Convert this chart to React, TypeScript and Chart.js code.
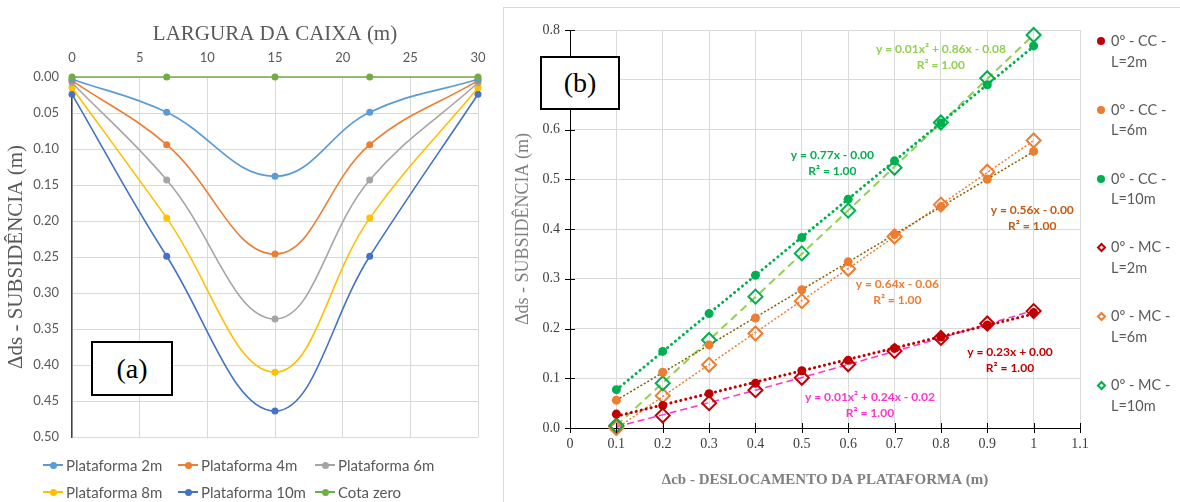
import React, { useEffect, useRef } from "react";
import { Chart, registerables } from "chart.js";
Chart.register(...registerables);

// ---------- Chart (a): settlement profile across the box width ----------
const boxWidthPositions = [0, 7, 15, 22, 30];
const plataforma2m = [0.003, 0.049, 0.138, 0.049, 0.003];
const plataforma4m = [0.005, 0.094, 0.246, 0.094, 0.005];
const plataforma6m = [0.008, 0.143, 0.336, 0.143, 0.008];
const plataforma8m = [0.015, 0.196, 0.41, 0.196, 0.015];
const plataforma10m = [0.024, 0.249, 0.464, 0.249, 0.024];
const cotaZero = [0, 0, 0, 0, 0];
const seriesANames = ["Plataforma 2m", "Plataforma 4m", "Plataforma 6m", "Plataforma 8m", "Plataforma 10m", "Cota zero"];
const seriesAValues = [plataforma2m, plataforma4m, plataforma6m, plataforma8m, plataforma10m, cotaZero];
const seriesAColors = ["#5B9BD5", "#ED7D31", "#A5A5A5", "#FFC000", "#4472C4", "#70AD47"];

// ---------- Chart (b): settlement vs platform displacement ----------
const displacement = [0.1, 0.2, 0.3, 0.4, 0.5, 0.6, 0.7, 0.8, 0.9, 1.0];
const cc2m = [0.028, 0.045, 0.069, 0.09, 0.115, 0.136, 0.16, 0.183, 0.207, 0.232];
const cc6m = [0.056, 0.112, 0.167, 0.221, 0.278, 0.334, 0.389, 0.445, 0.5, 0.556];
const cc10m = [0.077, 0.154, 0.23, 0.307, 0.383, 0.46, 0.537, 0.613, 0.69, 0.768];
const mc2m = [0.004, 0.025, 0.05, 0.076, 0.101, 0.128, 0.155, 0.181, 0.21, 0.235];
const mc6m = [0.0, 0.065, 0.127, 0.19, 0.255, 0.32, 0.385, 0.449, 0.515, 0.578];
const mc10m = [0.005, 0.09, 0.177, 0.264, 0.351, 0.437, 0.523, 0.614, 0.703, 0.79];
const seriesBNames = [
  ["0º - CC -", "L=2m"],
  ["0º - CC -", "L=6m"],
  ["0º - CC -", "L=10m"],
  ["0º - MC -", "L=2m"],
  ["0º - MC -", "L=6m"],
  ["0º - MC -", "L=10m"],
];
const seriesBValues = [cc2m, cc6m, cc10m, mc2m, mc6m, mc10m];
const seriesBColors = ["#C00000", "#ED7D31", "#00B050", "#C00000", "#ED7D31", "#00B050"];
const seriesBOpen = [false, false, false, true, true, true];
const trendDegree = [1, 1, 1, 2, 1, 2];
const trendColors = ["#C00000", "#806000", "#00B050", "#FF33CC", "#ED7D31", "#92D050"];
const trendEquations = [
  ["y = 0.23x + 0.00", "R² = 1.00"],
  ["y = 0.56x - 0.00", "R² = 1.00"],
  ["y = 0.77x - 0.00", "R² = 1.00"],
  ["y = 0.01x² + 0.24x - 0.02", "R² = 1.00"],
  ["y = 0.64x - 0.06", "R² = 1.00"],
  ["y = 0.01x² + 0.86x - 0.08", "R² = 1.00"],
];
const trendLabelColors = ["#C00000", "#C55A11", "#00B050", "#FF33CC", "#ED7D31", "#92D050"];
const xTicksB = [0, 0.1, 0.2, 0.3, 0.4, 0.5, 0.6, 0.7, 0.8, 0.9, 1.0, 1.1];

// ---------- styling / placement (not data) ----------
const trendStyles = [
  { width: 3, dash: [0.1, 5], cap: "round" },
  { width: 1.5, dash: [2, 2], cap: "butt" },
  { width: 3, dash: [0.1, 5], cap: "round" },
  { width: 1.5, dash: [7, 4], cap: "butt" },
  { width: 1.5, dash: [2, 2], cap: "butt" },
  { width: 2, dash: [8, 5], cap: "butt" },
];
const trendLabelAnchors = [
  [0.949, 0.153],
  [0.997, 0.438],
  [0.566, 0.549],
  [0.647, 0.063],
  [0.706, 0.29],
  [0.8, 0.761],
];

function polyFit(xs: number[], ys: number[], degree: number): number[] {
  const n = degree + 1;
  const A: number[][] = [];
  for (let r = 0; r < n; r++) {
    const row: number[] = [];
    for (let c = 0; c < n; c++) row.push(xs.reduce((s, x) => s + Math.pow(x, r + c), 0));
    row.push(xs.reduce((s, x, i) => s + Math.pow(x, r) * ys[i], 0));
    A.push(row);
  }
  for (let i = 0; i < n; i++) {
    let p = i;
    for (let k = i + 1; k < n; k++) if (Math.abs(A[k][i]) > Math.abs(A[p][i])) p = k;
    [A[i], A[p]] = [A[p], A[i]];
    for (let k = i + 1; k < n; k++) {
      const f = A[k][i] / A[i][i];
      for (let c = i; c <= n; c++) A[k][c] -= f * A[i][c];
    }
  }
  const coef = new Array(n).fill(0);
  for (let i = n - 1; i >= 0; i--) {
    let s = A[i][n];
    for (let c = i + 1; c < n; c++) s -= A[i][c] * coef[c];
    coef[i] = s / A[i][i];
  }
  return coef;
}
const evalPoly = (coef: number[], x: number) => coef.reduce((s, c, i) => s + c * Math.pow(x, i), 0);

const SERIF = "'Liberation Serif', 'Times New Roman', serif";
const SANS = "Lato, 'Open Sans', sans-serif";

export default function App() {
  const leftRef = useRef<HTMLCanvasElement>(null);
  const rightRef = useRef<HTMLCanvasElement>(null);

  useEffect(() => {
    const chartA = new Chart(leftRef.current as HTMLCanvasElement, {
      type: "line",
      data: {
        datasets: seriesAValues.map((vals, i) => ({
          label: seriesANames[i],
          data: vals.map((y, j) => ({ x: boxWidthPositions[j], y })),
          borderColor: seriesAColors[i],
          backgroundColor: seriesAColors[i],
          borderWidth: 1.6,
          pointRadius: 3.5,
          pointBorderWidth: 0,
          tension: i === 5 ? 0 : 0.4,
          clip: false,
          order: i === 5 ? 0 : 1,
        })),
      },
      options: {
        responsive: false,
        animation: false,
        devicePixelRatio: 1,
        layout: { padding: { left: 0, top: 0, right: 22, bottom: 65 } },
        plugins: { legend: { display: false }, tooltip: { enabled: false } },
        scales: {
          x: {
            type: "linear",
            position: "top",
            min: 0,
            max: 30,
            ticks: { stepSize: 5, padding: 11, color: "#595959", font: { family: SANS, size: 13 } },
            grid: { color: "#d9d9d9", drawTicks: false },
            border: { display: false },
            title: {
              display: true,
              text: "LARGURA DA CAIXA (m)",
              color: "#595959",
              font: { family: SERIF, size: 21 },
              padding: { top: 22, bottom: 0 },
            },
            afterFit: (s: any) => { s.height = 77; },
          },
          y: {
            type: "linear",
            reverse: true,
            min: 0,
            max: 0.5,
            ticks: {
              stepSize: 0.05,
              padding: 13,
              color: "#595959",
              font: { family: SANS, size: 13 },
              callback: (v: any) => Number(v).toFixed(2),
            },
            grid: { color: "#d9d9d9", drawTicks: false },
            border: { color: "#404040", width: 1.5 },
            title: {
              display: true,
              text: "Δds - SUBSIDÊNCIA (m)",
              color: "#595959",
              font: { family: SERIF, size: 21 },
              padding: { top: 4, bottom: 0 },
            },
            afterFit: (s: any) => { s.width = 72; },
          },
        },
      },
    } as any);

    const trendData = seriesBValues.map((vals, i) => {
      const coef = polyFit(displacement, vals, trendDegree[i]);
      return displacement.map((x) => ({ x, y: evalPoly(coef, x) }));
    });

    const crossTicks = {
      id: "crossTicks",
      afterDraw(chart: any) {
        const { ctx, scales } = chart;
        const xs = scales.x, ys = scales.y;
        ctx.save();
        ctx.strokeStyle = "#000";
        ctx.lineWidth = 1;
        ctx.beginPath();
        ys.ticks.forEach((t: any) => {
          const py = Math.round(ys.getPixelForValue(t.value)) + 0.5;
          ctx.moveTo(xs.left - 5, py);
          ctx.lineTo(xs.left + 5, py);
        });
        xs.ticks.forEach((t: any) => {
          const px = Math.round(xs.getPixelForValue(t.value)) + 0.5;
          ctx.moveTo(px, ys.bottom - 5);
          ctx.lineTo(px, ys.bottom + 5);
        });
        ctx.stroke();
        ctx.restore();
      },
    };

    const trendLabels = {
      id: "trendLabels",
      afterDatasetsDraw(chart: any) {
        const { ctx, scales } = chart;
        ctx.save();
        ctx.font = `bold 12px ${SANS}`;
        ctx.textAlign = "center";
        ctx.textBaseline = "middle";
        trendEquations.forEach((lines, i) => {
          const px = scales.x.getPixelForValue(trendLabelAnchors[i][0]);
          const py = scales.y.getPixelForValue(trendLabelAnchors[i][1]);
          ctx.fillStyle = trendLabelColors[i];
          lines.forEach((t, k) => ctx.fillText(t, px, py + k * 16));
        });
        ctx.restore();
      },
    };

    const chartB = new Chart(rightRef.current as HTMLCanvasElement, {
      type: "scatter",
      data: {
        datasets: [
          ...seriesBValues.map((vals, i) => ({
            label: seriesBNames[i].join(" "),
            data: vals.map((y, j) => ({ x: displacement[j], y })),
            showLine: false,
            pointStyle: seriesBOpen[i] ? "rectRot" : "circle",
            pointRadius: seriesBOpen[i] ? 7 : 4.5,
            pointBorderWidth: seriesBOpen[i] ? 2 : 0,
            pointBorderColor: seriesBColors[i],
            pointBackgroundColor: seriesBOpen[i] ? "rgba(255,255,255,0)" : seriesBColors[i],
            clip: false,
            order: 5 - (i % 3) - (seriesBOpen[i] ? 0 : 3) + 3,
          })),
          ...trendData.map((pts, i) => ({
            label: "trend " + i,
            data: pts,
            showLine: true,
            pointRadius: 0,
            borderColor: trendColors[i],
            borderWidth: trendStyles[i].width,
            borderDash: trendStyles[i].dash,
            borderCapStyle: trendStyles[i].cap,
            tension: 0,
            order: 10 + i,
          })),
        ],
      },
      options: {
        responsive: false,
        animation: false,
        devicePixelRatio: 1,
        layout: { padding: { left: 0, top: 22, right: 100, bottom: 0 } },
        plugins: { legend: { display: false }, tooltip: { enabled: false } },
        scales: {
          x: {
            type: "linear",
            min: 0,
            max: 1.1,
            afterBuildTicks: (s: any) => { s.ticks = xTicksB.map((v) => ({ value: v })); },
            ticks: {
              padding: 8,
              color: "#404040",
              font: { family: SERIF, size: 14 },
              callback: (v: any) => String(Number(Number(v).toFixed(1))),
            },
            grid: { color: "#d9d9d9", drawTicks: false },
            border: { color: "#000", width: 1 },
            title: {
              display: true,
              text: "Δcb - DESLOCAMENTO DA PLATAFORMA (m)",
              color: "#7f7f7f",
              font: { family: SERIF, size: 15, weight: "bold" },
              padding: { top: 0, bottom: 13 },
            },
            afterFit: (s: any) => { s.height = 74; },
          },
          y: {
            type: "linear",
            min: 0,
            max: 0.8,
            ticks: {
              stepSize: 0.1,
              padding: 10,
              color: "#404040",
              font: { family: SERIF, size: 14 },
              callback: (v: any) => Number(v).toFixed(1),
            },
            grid: { color: "#d9d9d9", drawTicks: false },
            border: { color: "#000", width: 1 },
            title: {
              display: true,
              text: "Δds - SUBSIDÊNCIA (m)",
              color: "#7f7f7f",
              font: { family: SERIF, size: 18 },
              padding: { top: 8, bottom: 0 },
            },
            afterFit: (s: any) => { s.width = 66; },
          },
        },
      },
      plugins: [crossTicks, trendLabels],
    } as any);

    return () => {
      chartA.destroy();
      chartB.destroy();
    };
  }, []);

  const legendAColX = [43, 178, 315];
  const legendARowY = [465, 492];

  return (
    <div style={{ position: "absolute", left: 0, top: 0, width: 1180, height: 502, overflow: "hidden", background: "#fff" }}>
      <canvas ref={leftRef} width={500} height={502} style={{ position: "absolute", left: 0, top: 0, width: 500, height: 502 }} />
      {seriesANames.map((name, i) => {
        const x = legendAColX[i % 3];
        const y = legendARowY[Math.floor(i / 3)];
        return (
          <div key={name}>
            <div style={{ position: "absolute", left: x, top: y - 1, width: 20, height: 2, background: seriesAColors[i] }} />
            <div style={{ position: "absolute", left: x + 6.5, top: y - 3.5, width: 7, height: 7, borderRadius: "50%", background: seriesAColors[i] }} />
            <div style={{ position: "absolute", left: x + 23, top: y - 10, height: 20, lineHeight: "20px", fontFamily: SANS, fontSize: 15, color: "#595959", whiteSpace: "nowrap" }}>{name}</div>
          </div>
        );
      })}
      <div style={{ position: "absolute", left: 91, top: 341, width: 82, height: 55, boxSizing: "border-box", border: "2px solid #000", background: "#fff", display: "flex", alignItems: "center", justifyContent: "center", fontFamily: SERIF, fontSize: 28, color: "#000" }}>(a)</div>

      <div style={{ position: "absolute", left: 503, top: 7, width: 700, height: 520, border: "1px solid #d9d9d9", boxSizing: "border-box" }} />
      <canvas ref={rightRef} width={676} height={494} style={{ position: "absolute", left: 504, top: 8, width: 676, height: 494 }} />
      {seriesBNames.map((lines, i) => {
        const cy = 41 + i * 68.8;
        return (
          <div key={i}>
            {seriesBOpen[i] ? (
              <div style={{ position: "absolute", left: 1101 - 3.5, top: cy - 3.5, width: 7, height: 7, boxSizing: "border-box", border: `2px solid ${seriesBColors[i]}`, transform: "rotate(45deg)" }} />
            ) : (
              <div style={{ position: "absolute", left: 1101 - 4, top: cy - 4, width: 8, height: 8, borderRadius: "50%", background: seriesBColors[i] }} />
            )}
            {lines.map((t, k) => (
              <div key={k} style={{ position: "absolute", left: 1111, top: cy - 10 + k * 20.5, height: 20, lineHeight: "20px", fontFamily: SANS, fontSize: 14.5, color: "#595959", whiteSpace: "nowrap" }}>{t}</div>
            ))}
          </div>
        );
      })}
      <div style={{ position: "absolute", left: 540, top: 56, width: 80, height: 54, boxSizing: "border-box", border: "2px solid #000", background: "#fff", display: "flex", alignItems: "center", justifyContent: "center", fontFamily: SERIF, fontSize: 28, color: "#000" }}>(b)</div>
    </div>
  );
}
